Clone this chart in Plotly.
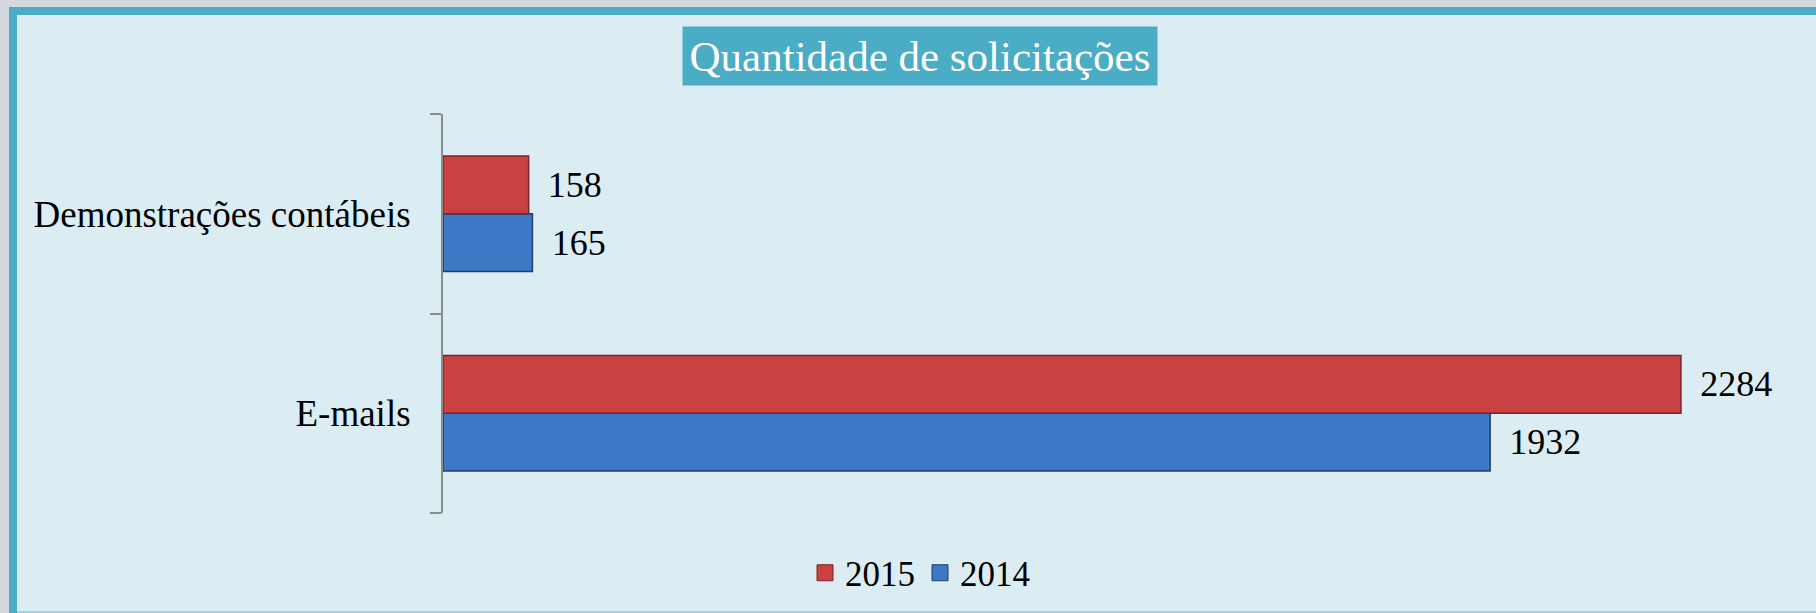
import plotly.graph_objects as go

categories = ["E-mails", "Demonstrações contábeis"]
values_2014 = [1932, 165]
values_2015 = [2284, 158]
series_names = ["2015", "2014"]
title_text = "Quantidade de solicitações"

W, H = 1816, 613
ML, MR, MT, MB = 443, 18, 114, 100
PW = W - ML - MR
PH = H - MT - MB

def px(x):
    return (x - ML) / PW

def py(y):
    return (H - MB - y) / PH

FONT = "Liberation Serif, Times New Roman, serif"
RED = "#c94141"
RED_LINE = "#7a2525"
BLUE = "#3c79c6"
BLUE_LINE = "#203f68"

fig = go.Figure()
fig.add_trace(go.Bar(
    y=categories, x=values_2014, orientation="h", name=series_names[1],
    marker=dict(color=BLUE, line=dict(color=BLUE_LINE, width=1.5)),
    text=values_2014, texttemplate="\u00a0\u2009%{x}", textposition="outside",
    textfont=dict(family=FONT, size=36, color="black"),
    cliponaxis=False, showlegend=False,
))
fig.add_trace(go.Bar(
    y=categories, x=values_2015, orientation="h", name=series_names[0],
    marker=dict(color=RED, line=dict(color=RED_LINE, width=1.5)),
    text=values_2015, texttemplate="\u00a0\u2009%{x}", textposition="outside",
    textfont=dict(family=FONT, size=36, color="black"),
    cliponaxis=False, showlegend=False,
))
# legend entries
fig.add_trace(go.Scatter(
    x=[None], y=[None], mode="markers", name=series_names[0],
    marker=dict(symbol="square", size=20, color=RED, line=dict(color=RED_LINE, width=1)),
))
fig.add_trace(go.Scatter(
    x=[None], y=[None], mode="markers", name=series_names[1],
    marker=dict(symbol="square", size=20, color=BLUE, line=dict(color=BLUE_LINE, width=1)),
))

shapes = [
    dict(type="rect", xref="paper", yref="paper", layer="below",
         x0=px(9), x1=px(W + 5), y0=py(H + 5), y1=py(7),
         fillcolor="#4bacc6", line=dict(width=0)),
    dict(type="rect", xref="paper", yref="paper", layer="below",
         x0=px(17), x1=px(W + 5), y0=py(H + 5), y1=py(15),
         fillcolor="#dbedf3", line=dict(width=0)),
    dict(type="rect", xref="paper", yref="paper", layer="below",
         x0=px(17), x1=px(W + 5), y0=py(H + 5), y1=py(611),
         fillcolor="#9dd3e4", line=dict(width=0)),
]

fig.update_layout(
    width=W, height=H,
    margin=dict(l=ML, r=MR, t=MT, b=MB, pad=0),
    paper_bgcolor="#d5d8dc",
    plot_bgcolor="rgba(0,0,0,0)",
    barmode="group", bargap=0.42, bargroupgap=0,
    font=dict(family=FONT, size=36, color="black"),
    shapes=shapes,
    showlegend=True,
    legend=dict(orientation="h", xref="container", yref="container",
                x=920 / W, y=1 - 573 / H, xanchor="center", yanchor="middle",
                font=dict(family=FONT, size=35, color="black"),
                bgcolor="rgba(0,0,0,0)", itemclick=False),
    annotations=[dict(
        text=title_text, xref="paper", yref="paper",
        x=px(920), y=py(56), xanchor="center", yanchor="middle",
        showarrow=False, bgcolor="#4bacc6", borderpad=5,
        width=464, height=48, align="center", valign="middle",
        font=dict(family=FONT, size=43, color="white"),
    )],
    xaxis=dict(range=[0, 2500], visible=False, showgrid=False, zeroline=False),
    yaxis=dict(
        type="category", categoryorder="array", categoryarray=categories,
        tickson="boundaries", ticks="outside", ticklen=11, tickwidth=2,
        tickcolor="#8c8c8c", showline=True, linecolor="#8c8c8c", linewidth=2,
        showgrid=False, zeroline=False, ticklabelstandoff=23,
        tickfont=dict(family=FONT, size=37, color="black"),
    ),
)

fig.write_html(
    "out.html",
    config={"displayModeBar": False},
    post_script="document.body.style.margin='0';document.body.style.overflow='hidden';document.body.style.background='#d5d8dc';",
)
